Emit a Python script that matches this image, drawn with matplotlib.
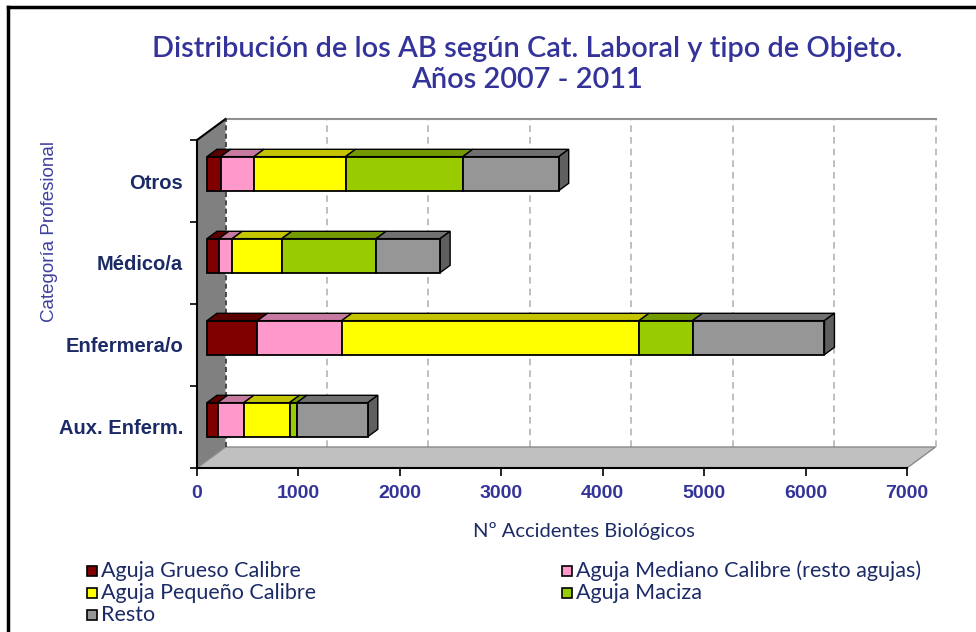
import matplotlib
matplotlib.use("Agg")
import matplotlib.pyplot as plt
from matplotlib.patches import Polygon, Rectangle

# ---------------- data ----------------
categories = ["Aux. Enferm.", "Enfermera/o", "Médico/a", "Otros"]
series_names = ["Aguja Grueso Calibre", "Aguja Mediano Calibre (resto agujas)",
                "Aguja Pequeño Calibre", "Aguja Maciza", "Resto"]
grueso = [105, 498, 118, 135]
mediano = [259, 831, 131, 328]
pequeno = [450, 2931, 489, 903]
maciza = [72, 527, 930, 1156]
resto = [700, 1301, 631, 946]
series_values = [grueso, mediano, pequeno, maciza, resto]
x_ticks = [0, 1000, 2000, 3000, 4000, 5000, 6000, 7000]

title = "Distribución de los AB según Cat. Laboral y tipo de Objeto.\nAños 2007 - 2011"
x_label = "Nº Accidentes Biológicos"
y_label = "Categoría Profesional"

# ---------------- styles ----------------
front_colors = ["#800000", "#ff99cc", "#ffff00", "#99cc00", "#969696"]
top_colors = ["#5a0000", "#c77a9f", "#c4c400", "#739a00", "#707070"]
side_color = "#5f5f5f"
title_color = "#333399"
navy = "#1c2b66"

W, H = 976, 632
fig = plt.figure(figsize=(W / 100, H / 100), dpi=100)
fig.patch.set_facecolor("white")

# axes = front plane of the 3D box
ax_l, ax_r, ax_t, ax_b = 197, 907, 140, 468
ax = fig.add_axes([ax_l / W, (H - ax_b) / H, (ax_r - ax_l) / W, (ax_b - ax_t) / H])
ax.set_xlim(0, 7000)
ax.set_ylim(0, 4)
ax.patch.set_alpha(0)

px_per_x = (ax_r - ax_l) / 7000.0
px_per_y = (ax_b - ax_t) / 4.0
DX = 28.5 / px_per_x      # depth offset in data units
DY = 21.0 / px_per_y
D0, D1 = 0.35, 0.70       # bar front / back depth fractions
BH = 34.0 / px_per_y      # bar front-face height

# back plane gridlines
for v in x_ticks[1:]:
    ax.plot([v + DX, v + DX], [DY, 4 + DY], color="#b4b4b4", lw=1.2,
            ls=(0, (4, 3)), clip_on=False, zorder=1)
ax.plot([DX, 7000 + DX], [4 + DY, 4 + DY], color="#909090", lw=1.5, clip_on=False, zorder=1)

# left wall
ax.add_patch(Polygon([(0, 0), (0, 4), (DX, 4 + DY), (DX, DY)], closed=True,
                     fc="#808080", ec="none", clip_on=False, zorder=2))
ax.plot([0, DX], [4, 4 + DY], color="black", lw=1.5, clip_on=False, zorder=3)
ax.plot([DX, DX], [DY, 4 + DY], color="#303030", lw=1.2, ls=(0, (3, 2)),
        clip_on=False, zorder=3)

# floor
ax.add_patch(Polygon([(0, 0), (7000, 0), (7000 + DX, DY), (DX, DY)], closed=True,
                     fc="#c0c0c0", ec="#8a8a8a", lw=1.0, clip_on=False, zorder=2))

# bars
for ci, cat in enumerate(categories):
    c = ci + 0.5
    y0 = c + D0 * DY - BH / 2
    y1 = y0 + BH
    ddx = (D1 - D0) * DX
    ddy = (D1 - D0) * DY
    left = 0.0
    for si, vals in enumerate(series_values):
        v = vals[ci]
        x0 = left + D0 * DX
        x1 = left + v + D0 * DX
        ax.add_patch(Polygon([(x0, y1), (x1, y1), (x1 + ddx, y1 + ddy), (x0 + ddx, y1 + ddy)],
                             closed=True, fc=top_colors[si], ec="black", lw=1.0,
                             clip_on=False, zorder=5))
        ax.add_patch(Polygon([(x0, y0), (x1, y0), (x1, y1), (x0, y1)], closed=True,
                             fc=front_colors[si], ec="black", lw=1.3,
                             clip_on=False, zorder=6))
        left += v
    x1 = left + D0 * DX
    ax.add_patch(Polygon([(x1, y0), (x1, y1), (x1 + ddx, y1 + ddy), (x1 + ddx, y0 + ddy)],
                         closed=True, fc=side_color, ec="black", lw=1.0,
                         clip_on=False, zorder=5))

# axes styling
for s in ["top", "right"]:
    ax.spines[s].set_visible(False)
ax.spines["left"].set_color("black")
ax.spines["left"].set_linewidth(1.5)
ax.spines["bottom"].set_color("black")
ax.spines["bottom"].set_linewidth(1.5)
ax.spines["left"].set_zorder(4)
ax.spines["bottom"].set_zorder(4)

ax.set_xticks(x_ticks)
ax.set_xticklabels([str(t) for t in x_ticks], fontsize=14, fontweight="bold",
                   color=title_color, family="Liberation Sans")
ax.tick_params(axis="x", length=6, width=1.2, pad=6, direction="out")
ax.set_yticks([0, 1, 2, 3, 4])
ax.set_yticklabels([])
ax.set_yticks([i + 0.5 for i in range(len(categories))], minor=True)
ax.set_yticklabels(categories, minor=True, fontsize=14.5, fontweight="bold",
                   color=navy, family="Liberation Sans")
ax.tick_params(axis="y", which="major", length=5, width=1.2, direction="out")
ax.tick_params(axis="y", which="minor", length=0, pad=10)

fig.text(527 / W, 1 - 64.5 / H, title, ha="center", va="center", color=title_color,
         fontsize=20.8, family="Lato", fontweight="semibold", linespacing=1.2)
fig.text(584 / W, 1 - 531 / H, x_label, ha="center", va="center", color=navy,
         fontsize=14.5, family="Lato")
fig.text(50 / W, 1 - 232 / H, y_label, ha="center", va="center", rotation=90,
         color="#4040a0", fontsize=13.5, family="Liberation Sans")

# legend (manual, row-major)
leg_pos = [(92, 571), (567, 571), (92, 593), (567, 593), (92, 615)]
for (lx, ly), name, col in zip(leg_pos, series_names, front_colors):
    fig.patches.append(Rectangle(((lx - 5) / W, 1 - (ly + 5) / H), 10 / W, 10 / H,
                                 transform=fig.transFigure, fc=col, ec="black", lw=1.2))
    fig.text((lx + 9) / W, 1 - ly / H, name, ha="left", va="center", color=navy,
             fontsize=15.5, family="Lato")

# outer frame (left + top)
fig.add_artist(plt.Line2D([8 / W, 8 / W], [0, 1 - 6.5 / H], transform=fig.transFigure,
                          color="black", lw=2.5))
fig.add_artist(plt.Line2D([8 / W, 1], [1 - 6.5 / H, 1 - 6.5 / H], transform=fig.transFigure,
                          color="black", lw=2.5))

fig.savefig("out.png", dpi=100)
